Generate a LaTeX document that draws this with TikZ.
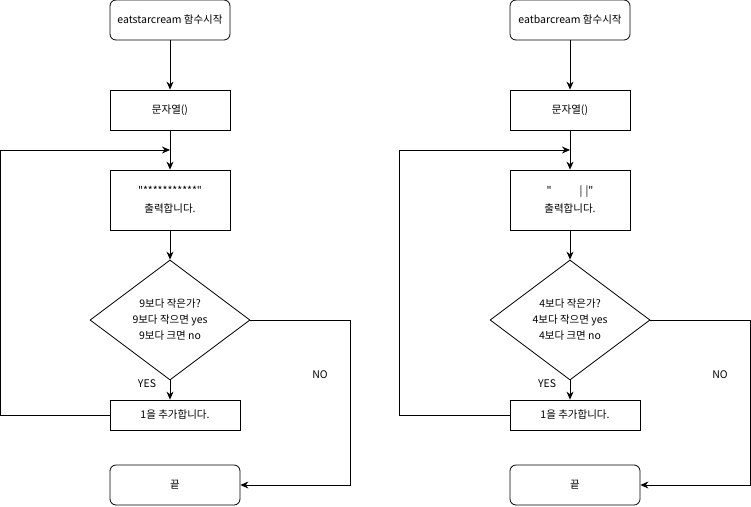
\documentclass[tikz,border=0pt]{standalone}
\usepackage{fontspec}
\newfontfamily\krfont{Noto Sans CJK KR}
\usetikzlibrary{shapes.geometric,arrows.meta}

\begin{document}
\begin{tikzpicture}[x=1pt,y=-1pt,line width=0.8pt,>={Stealth[length=8pt,width=7pt]},
	node font=\krfont\fontsize{10.5}{16}\selectfont,
	box/.style={draw,rectangle,minimum width=120pt,minimum height=40pt,inner sep=0pt,align=center},
	termbox/.style={box,rounded corners=6pt},
	decision/.style={draw,diamond,aspect=1.333,minimum width=160pt,minimum height=120pt,inner sep=0pt,align=center}]
	\useasboundingbox (0,0) rectangle (751,506);

	% eatstarcream
	\begin{scope}
		\node[termbox] (start1) at (170,20) {eatstarcream 함수시작};
		\node[box] (str1) at (170,110) {문자열()};
		\node[box,minimum height=60pt] (print1) at (170,200) {"***********"\\[2pt]출력합니다.};
		\node[decision] (cond1) at (170,320) {9보다 작은가?\\9보다 작으면 yes\\9보다 크면 no};
		\node[box,minimum width=130pt,minimum height=30pt] (add1) at (175,415) {1을 추가합니다.};
		\node[termbox,minimum width=130pt] (end1) at (175,485) {끝};
		\coordinate (loop1) at (170,150);

		\node at (147,384) {YES};
		\node at (320,375) {NO};

		\draw[->] (start1) -- (str1);
		\draw[->] (str1) -- (print1);
		\draw[->] (print1) -- (cond1);
		\draw[->] (cond1.south) -- (cond1.south |- add1.north);
		\draw[->] (add1.west) -- ++(-109,0) |- (loop1);
		\draw[->] (cond1.east) -- ++(100,0) |- (end1.east);
	\end{scope}

	% eatbarcream
	\begin{scope}
		\node[termbox] (start2) at (570,20) {eatbarcream 함수시작};
		\node[box] (str2) at (570,110) {문자열()};
		\node[box,minimum height=60pt] (print2) at (570,200) {"\hspace{28pt}|\hspace{3pt}|"\\[2pt]출력합니다.};
		\node[decision] (cond2) at (570,320) {4보다 작은가?\\4보다 작으면 yes\\4보다 크면 no};
		\node[box,minimum width=130pt,minimum height=30pt] (add2) at (575,415) {1을 추가합니다.};
		\node[termbox,minimum width=130pt] (end2) at (575,485) {끝};
		\coordinate (loop2) at (570,150);

		\node at (547,384) {YES};
		\node at (720,375) {NO};

		\draw[->] (start2) -- (str2);
		\draw[->] (str2) -- (print2);
		\draw[->] (print2) -- (cond2);
		\draw[->] (cond2.south) -- (cond2.south |- add2.north);
		\draw[->] (add2.west) -- ++(-110,0) |- (loop2);
		\draw[->] (cond2.east) -- ++(100,0) |- (end2.east);
	\end{scope}
\end{tikzpicture}
\end{document}
